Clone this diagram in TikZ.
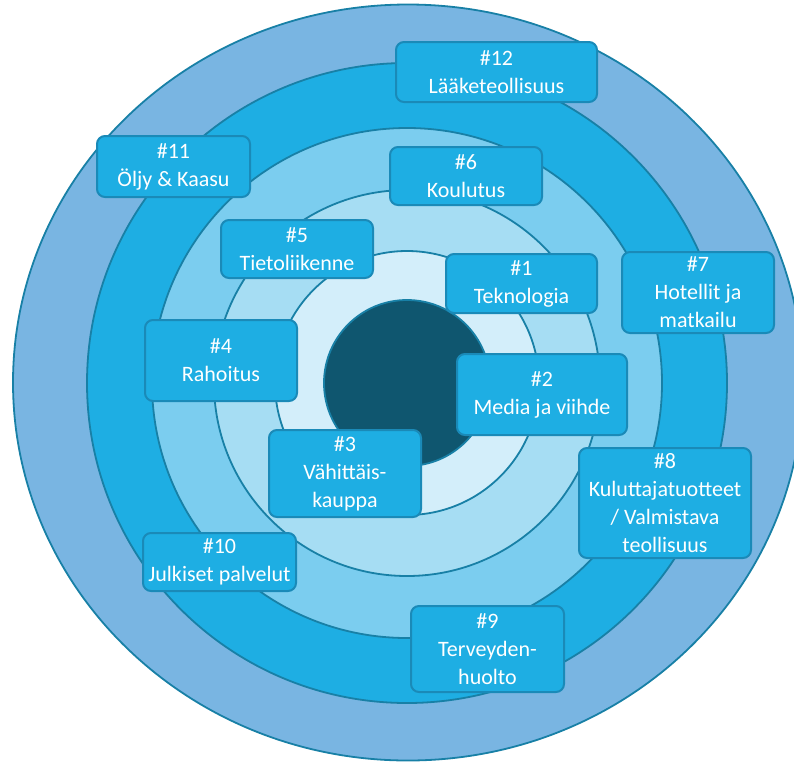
\documentclass[tikz,border=0pt]{standalone}
\usepackage{fontspec}
\setmainfont{Carlito}

\definecolor{bandA}{RGB}{121,181,226}
\definecolor{bandB}{RGB}{30,174,227}
\definecolor{bandC}{RGB}{123,205,239}
\definecolor{bandD}{RGB}{166,221,243}
\definecolor{bandE}{RGB}{211,238,250}
\definecolor{core}{RGB}{15,86,111}
\definecolor{ringline}{RGB}{24,128,166}
\definecolor{boxline}{RGB}{26,138,184}

\begin{document}
\begin{tikzpicture}[x=1pt, y=-1pt, every node/.style={rounded corners=8pt},
    ring/.style={draw=ringline, line width=1.8pt},
    sector/.style={draw=boxline, line width=2pt, fill=bandB, text=white, align=center,
      inner sep=0pt, minimum width=152pt, font=\fontsize{22}{28}\selectfont}]
      \useasboundingbox (0,0) rectangle (794,764);
      \clip (0,0) rectangle (794,764);
      % rings
      \draw[ring, fill=bandA] (408,382.5) ellipse [x radius=395, y radius=378];
      \draw[ring, fill=bandB] (407,383) circle [radius=320];
      \draw[ring, fill=bandC] (407,383) circle [radius=255];
      \draw[ring, fill=bandD] (407,383) circle [radius=193];
      \draw[ring, fill=bandE] (407,383) circle [radius=132];
      \draw[ring, fill=core] (407,383) circle [radius=83];
      % sectors
      \node[sector, minimum width=201pt, minimum height=60pt] (s12) at (496.5,72) {\#12\\Lääketeollisuus};
      \node[sector, minimum width=153pt, minimum height=61pt] (s11) at (173.5,166.5) {\#11\\Öljy \& Kaasu};
      \node[sector, minimum height=58pt] (s6) at (466,176) {\#6\\Koulutus};
      \node[sector, minimum height=58pt] (s5) at (297,249) {\#5\\Tietoliikenne};
      \node[sector, minimum width=151pt, minimum height=59pt] (s1) at (521.5,283.5) {\#1\\Teknologia};
      \node[sector, minimum height=81pt] (s7) at (698,292.5) {\#7\\Hotellit ja\\matkailu};
      \node[sector, minimum height=81pt] (s4) at (221,360.5) {\#4\\Rahoitus};
      \node[sector, minimum width=170pt, minimum height=81pt] (s2) at (542,394.5) {\#2\\Media ja viihde};
      \node[sector, minimum height=87pt] (s3) at (345,473.5) {\#3\\Vähittäis-\\kauppa};
      \node[sector, minimum width=172pt, minimum height=110pt] (s8) at (665,503) {\#8\\Kuluttajatuotteet\\/ Valmistava\\teollisuus};
      \node[sector, minimum width=153pt, minimum height=58pt] (s10) at (219.5,562) {\#10\\Julkiset palvelut};
      \node[sector, minimum width=153pt, minimum height=86pt] (s9) at (487.5,649) {\#9\\Terveyden-\\huolto};
    \end{tikzpicture}
\end{document}
